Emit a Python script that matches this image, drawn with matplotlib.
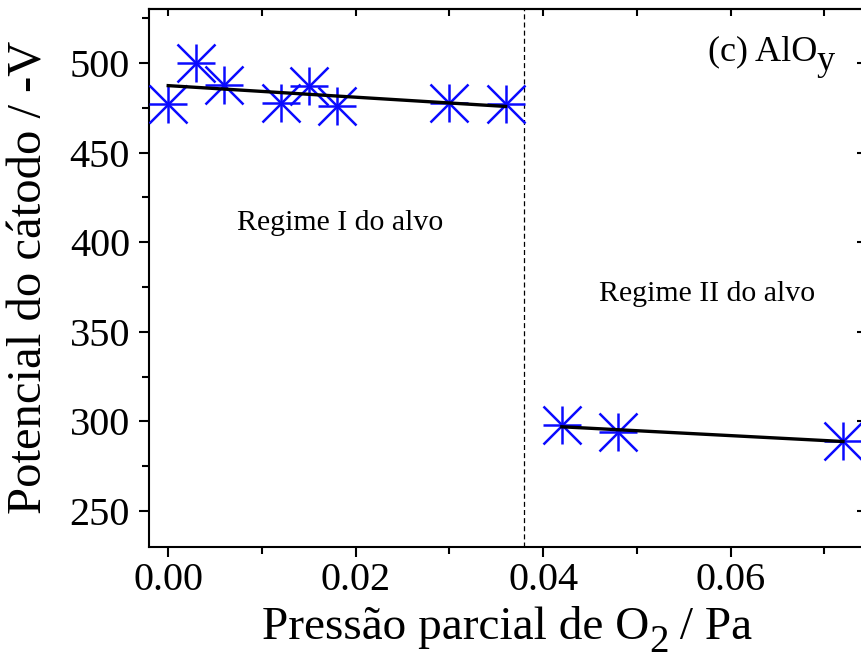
"""
Cathode potential vs O2 partial pressure (AlOy), two target regimes.
"""
import numpy as np
import matplotlib
matplotlib.use('Agg')
import matplotlib.pyplot as plt
from matplotlib.ticker import MultipleLocator

# regime I (metallic target)
p_reg1 = [0.000, 0.003, 0.006, 0.012, 0.015, 0.018, 0.030, 0.036]
v_reg1 = [477, 500, 488, 478, 487, 476, 478, 477]

# regime II (poisoned target)
p_reg2 = [0.042, 0.048, 0.072]
v_reg2 = [298, 294, 289]

x_transition = 0.038

x_major_ticks = [0.00, 0.02, 0.04, 0.06]
y_major_ticks = [250, 300, 350, 400, 450, 500]

W, H = 861, 662

plt.rcParams['font.family'] = ['Liberation Serif', 'DejaVu Serif']


def place_parts(fig, parts, x_px, y_px, align='center'):
    """Lay out text pieces on one baseline; each piece is (text, size, drop_px)."""
    r = fig.canvas.get_renderer()
    texts = []
    widths = []
    for s, size, drop in parts:
        t = fig.text(0, 0, s, fontsize=size, ha='left', va='baseline')
        texts.append((t, drop))
        widths.append(t.get_window_extent(r).width)
    total = sum(widths)
    if align == 'center':
        x = x_px - total / 2
    elif align == 'right':
        x = x_px - total
    else:
        x = x_px
    for (t, drop), w in zip(texts, widths):
        t.set_position((x / W, 1 - (y_px + drop) / H))
        x += w


fig = plt.figure(figsize=(W / 100, H / 100), dpi=100)
ax = fig.add_axes([0.1736, 0.1742, 0.8294, 0.8115])

blue = '#0a0aff'
for xs, ys in [(p_reg1, v_reg1), (p_reg2, v_reg2)]:
    xs = np.array(xs)
    ys = np.array(ys)
    # linear fit over each regime
    k, b = np.polyfit(xs, ys, 1)
    xf = np.array([xs.min(), xs.max()])
    ax.plot(xf, k * xf + b, color='black', linewidth=2.4, zorder=4)
    ax.plot(xs, ys, linestyle='none', marker='+', markersize=27,
            markeredgewidth=1.8, color=blue, zorder=3)
    ax.plot(xs, ys, linestyle='none', marker='x', markersize=27,
            markeredgewidth=1.8, color=blue, zorder=3)

ax.axvline(x_transition, color='black', linewidth=0.9,
           linestyle=(0, (4, 2.5)), zorder=2)

ax.set_xlim(-0.002, 0.0742)
ax.set_ylim(230, 530)

ax.set_xticks(x_major_ticks)
ax.set_xticklabels([f'{v:.2f}' for v in x_major_ticks])
ax.xaxis.set_minor_locator(MultipleLocator(0.01))
ax.set_yticks(y_major_ticks)
ax.yaxis.set_minor_locator(MultipleLocator(25))

ax.tick_params(which='both', direction='out', width=1.5, labelsize=29)
ax.tick_params(which='major', length=7)
ax.tick_params(which='minor', length=5)
ax.tick_params(axis='x', pad=4)
ax.tick_params(axis='y', pad=7)
for sp in ax.spines.values():
    sp.set_linewidth(1.5)

# inward ticks on top and right, no labels
top = ax.secondary_xaxis('top')
top.set_xticks(np.arange(0.0, 0.075, 0.01))
top.tick_params(direction='in', length=5, width=1.5, labeltop=False)
top.spines['top'].set_linewidth(1.5)
right = ax.secondary_yaxis('right')
right.set_yticks(y_major_ticks)
right.tick_params(direction='in', length=5, width=1.5, labelright=False)
right.spines['right'].set_linewidth(1.5)

ax.text(0.0183, 407, 'Regime I do alvo', fontsize=21.5, ha='center',
        va='baseline')
ax.text(0.0575, 367, 'Regime II do alvo', fontsize=21.5, ha='center',
        va='baseline')

# panel tag and axis labels with lowered subscripts
place_parts(fig, [('(c) AlO', 26, 0), ('y', 26, 10)], 835, 60, align='right')
place_parts(fig, [('Pressão parcial de O', 34, 0), ('2', 28, 13),
                  (' / Pa', 34, 0)], 507, 639, align='center')
fig.text(30 / W, 1 - 277 / H, 'Potencial do cátodo / -V',
         fontsize=35, ha='center', va='center', rotation=90)

fig.savefig('out.png', dpi=100)
